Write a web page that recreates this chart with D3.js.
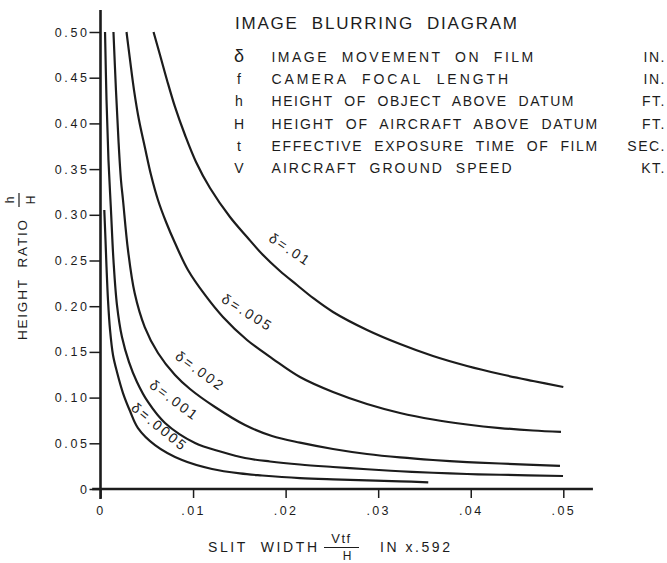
<!DOCTYPE html>
<html><head><meta charset="utf-8">
<script src="https://cdn.jsdelivr.net/npm/d3@7"></script>
<style>
html,body{margin:0;padding:0;background:#fff;}
svg{display:block;}
text{font-family:"Liberation Sans",Arial,sans-serif;fill:#1c1c1c;white-space:pre;}
</style></head><body>
<svg id="chart" width="667" height="563"></svg>
<script>
// ---- data ----
const seriesNames = ["δ=.01", "δ=.005", "δ=.002", "δ=.001", "δ=.0005"];

const x_d01 = [0.00573,0.00643,0.00718,0.00805,0.00913,0.01032,0.01183,0.01399,0.01583,0.01756,0.01939,0.02123,0.02296,0.02512,0.02880,0.03236,0.03592,0.03960,0.04316,0.04673,0.05000];
const y_d01 = [0.500,0.4748,0.4475,0.4180,0.3873,0.3578,0.3293,0.2976,0.2757,0.2560,0.2385,0.2232,0.2090,0.1937,0.1740,0.1586,0.1455,0.1346,0.1258,0.1182,0.1116];

const x_d005 = [0.00281,0.00319,0.00362,0.00416,0.00481,0.00546,0.00621,0.00708,0.00805,0.00945,0.01129,0.01323,0.01583,0.01864,0.02155,0.02512,0.02879,0.03236,0.03592,0.03960,0.04316,0.04673,0.04975];
const y_d005 = [0.500,0.4694,0.4365,0.4037,0.3731,0.3435,0.3162,0.2921,0.2691,0.2396,0.2123,0.1882,0.1630,0.1422,0.1225,0.1061,0.0930,0.0832,0.0760,0.0706,0.0667,0.0640,0.0624];

const x_d002 = [0.00140,0.00167,0.00194,0.00221,0.00243,0.00297,0.00369,0.00478,0.00621,0.00805,0.00967,0.01237,0.01561,0.01853,0.02155,0.02512,0.02879,0.03236,0.03592,0.03960,0.04316,0.04964];
const y_d002 = [0.500,0.4365,0.3818,0.3381,0.3162,0.2615,0.2144,0.1772,0.1488,0.1247,0.1094,0.0897,0.0700,0.0580,0.0507,0.0438,0.0383,0.0345,0.0317,0.0295,0.0279,0.0252];

const x_d001 = [0.00049,0.00065,0.00086,0.00113,0.00140,0.00178,0.00232,0.00308,0.00394,0.00513,0.00697,0.01021,0.01313,0.01561,0.01831,0.02155,0.02512,0.02879,0.03236,0.03592,0.03960,0.04316,0.04997];
const y_d001 = [0.500,0.4256,0.3600,0.3053,0.2505,0.2013,0.1663,0.1389,0.1171,0.0952,0.0722,0.0503,0.0405,0.0339,0.0301,0.0268,0.0241,0.0216,0.0194,0.0178,0.0164,0.0156,0.0142];

const x_d0005 = [0.00041,0.00054,0.00065,0.00081,0.00103,0.00135,0.00178,0.00243,0.00319,0.00405,0.00589,0.00881,0.01205,0.01507,0.01745,0.02155,0.02512,0.02879,0.03236,0.03541];
const y_d0005 = [0.3053,0.2724,0.2429,0.2068,0.1740,0.1466,0.1280,0.1050,0.0853,0.0667,0.0481,0.0317,0.0219,0.0170,0.0148,0.0120,0.0106,0.0095,0.0084,0.0073];

// label anchors (data units) and angles for the curve labels
const labelX = [0.0205, 0.0159, 0.0108, 0.0080, 0.0064];
const labelY = [0.262, 0.193, 0.129, 0.097, 0.068];
const labelAngle = [34, 32, 36, 37, 39];

const xTicks = [0, 0.01, 0.02, 0.03, 0.04, 0.05];
const xTickLabels = ["0", ".01", ".02", ".03", ".04", ".05"];
const yTicks = [0, 0.05, 0.10, 0.15, 0.20, 0.25, 0.30, 0.35, 0.40, 0.45, 0.50];
const yTickLabels = ["0","0.05","0.10","0.15","0.20","0.25","0.30","0.35","0.40","0.45","0.50"];

const titleText = "IMAGE  BLURRING  DIAGRAM";
const legendSymbols = ["δ", "f", "h", "H", "t", "V"];
const legendTexts = [
  "IMAGE  MOVEMENT  ON  FILM",
  "CAMERA  FOCAL  LENGTH",
  "HEIGHT  OF  OBJECT  ABOVE  DATUM",
  "HEIGHT  OF  AIRCRAFT  ABOVE  DATUM",
  "EFFECTIVE  EXPOSURE  TIME  OF  FILM",
  "AIRCRAFT  GROUND  SPEED"
];
const legendUnits = ["IN.", "IN.", "FT.", "FT.", "SEC.", "KT."];

// ---- drawing ----
const ink = "#1c1c1c";
const svg = d3.select("#chart");
const x = d3.scaleLinear().domain([0, 0.05]).range([100.5, 563.3]);
const y = d3.scaleLinear().domain([0, 0.5]).range([489, 32]);

const series = [
  {name: seriesNames[0], xs: x_d01, ys: y_d01},
  {name: seriesNames[1], xs: x_d005, ys: y_d005},
  {name: seriesNames[2], xs: x_d002, ys: y_d002},
  {name: seriesNames[3], xs: x_d001, ys: y_d001},
  {name: seriesNames[4], xs: x_d0005, ys: y_d0005}
];

// axes
const yAxis = d3.axisLeft(y).tickValues(yTicks).tickFormat((d, i) => yTickLabels[i]).tickSize(11).tickPadding(0);
const gy = svg.append("g").attr("transform", `translate(${x(0)},0)`).call(yAxis);
gy.select(".domain").remove();
gy.selectAll(".tick line").attr("stroke", ink).attr("stroke-width", 1.5);
gy.selectAll(".tick text").attr("fill", ink).style("font-size", "12.5px").style("letter-spacing", "2.6px")
  .style("font-family", '"Liberation Sans",Arial,sans-serif');

const xAxis = d3.axisBottom(x).tickValues(xTicks).tickFormat((d, i) => xTickLabels[i]).tickSize(9).tickPadding(8);
const gx = svg.append("g").attr("transform", `translate(0,${y(0)})`).call(xAxis);
gx.select(".domain").remove();
gx.selectAll(".tick line").attr("stroke", ink).attr("stroke-width", 1.5);
gx.selectAll(".tick text").attr("fill", ink).style("font-size", "12.5px").style("letter-spacing", "2.4px")
  .style("font-family", '"Liberation Sans",Arial,sans-serif');

// extended axis lines
svg.append("line").attr("x1", x(0)).attr("x2", x(0)).attr("y1", y(-0.011)).attr("y2", y(0.524))
  .attr("stroke", ink).attr("stroke-width", 2.6);
svg.append("line").attr("x1", x(-0.0009)).attr("x2", x(0.0532)).attr("y1", y(0)).attr("y2", y(0))
  .attr("stroke", ink).attr("stroke-width", 2.6);

// curves
const line = d3.line().x(d => x(d[0])).y(d => y(d[1])).curve(d3.curveCatmullRom.alpha(0.5));
svg.append("g").selectAll("path").data(series).join("path")
  .attr("d", s => line(s.xs.map((v, i) => [v, s.ys[i]])))
  .attr("fill", "none").attr("stroke", ink).attr("stroke-width", 2.2).attr("stroke-linecap", "butt");

// curve labels
svg.append("g").selectAll("text").data(series).join("text")
  .attr("transform", (s, i) => `translate(${x(labelX[i])},${y(labelY[i])}) rotate(${labelAngle[i]})`)
  .attr("text-anchor", "middle").attr("dominant-baseline", "central")
  .style("font-size", "14px").style("letter-spacing", "2.4px")
  .text(s => s.name);

// title and legend
svg.append("text").attr("x", 235).attr("y", 29.3).style("font-size", "17px")
  .attr("textLength", 282).attr("lengthAdjust", "spacing").text(titleText);

const rowY = d3.scaleLinear().domain([0, 5]).range([62, 173]);
const lg = svg.append("g");
lg.selectAll("text.sym").data(legendSymbols).join("text").attr("class", "sym")
  .attr("x", 239).attr("y", (d, i) => rowY(i)).attr("text-anchor", "middle")
  .style("font-size", (d, i) => i === 0 ? "18px" : "14px").text(d => d);
lg.selectAll("text.desc").data(legendTexts).join("text").attr("class", "desc")
  .attr("x", 271.5).attr("y", (d, i) => rowY(i)).style("font-size", "14px")
  .attr("textLength", (d, i) => [261.7, 236.7, 302, 325.7, 325.7, 240][i]).attr("lengthAdjust", "spacing")
  .text(d => d);
lg.selectAll("text.unit").data(legendUnits).join("text").attr("class", "unit")
  .attr("x", 666).attr("y", (d, i) => rowY(i)).attr("text-anchor", "end")
  .style("font-size", "14px").style("letter-spacing", "1.5px").text(d => d);

// y axis title
const yt = svg.append("g").attr("transform", "translate(26.5,340) rotate(-90)");
yt.append("text").attr("x", 0).attr("y", 0).style("font-size", "13.5px")
  .attr("textLength", 120).attr("lengthAdjust", "spacing").text("HEIGHT  RATIO");
yt.append("text").attr("x", 140).attr("y", -13).attr("text-anchor", "middle").style("font-size", "12px").text("h");
yt.append("line").attr("x1", 133).attr("x2", 147).attr("y1", -7.5).attr("y2", -7.5).attr("stroke", ink).attr("stroke-width", 1.2);
yt.append("text").attr("x", 140).attr("y", 8.5).attr("text-anchor", "middle").style("font-size", "12px").text("H");

// x axis title
const xt = svg.append("g");
xt.append("text").attr("x", 208).attr("y", 552).style("font-size", "14px")
  .attr("textLength", 109).attr("lengthAdjust", "spacing").text("SLIT  WIDTH");
xt.append("text").attr("x", 341.5).attr("y", 543).attr("text-anchor", "middle").style("font-size", "13px")
  .style("letter-spacing", "1.5px").text("Vtf");
xt.append("line").attr("x1", 324).attr("x2", 359).attr("y1", 547.5).attr("y2", 547.5).attr("stroke", ink).attr("stroke-width", 1.2);
xt.append("text").attr("x", 347).attr("y", 560).attr("text-anchor", "middle").style("font-size", "12px").text("H");
xt.append("text").attr("x", 380).attr("y", 552).style("font-size", "14px")
  .attr("textLength", 70).attr("lengthAdjust", "spacing").text("IN x.592");
</script>
</body></html>
